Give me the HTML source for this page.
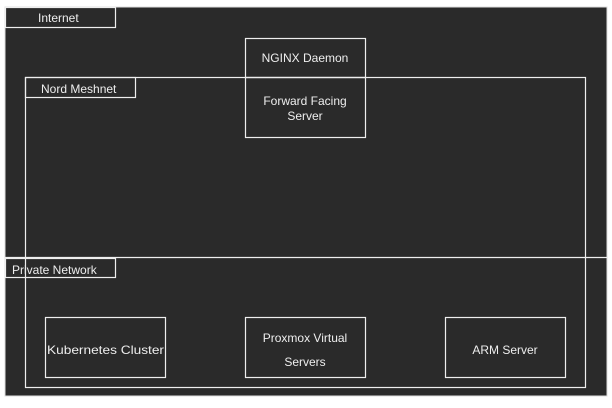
<!DOCTYPE html>
<html><head><style>
body{margin:0;width:612px;height:403px;background:#fff;overflow:hidden}
svg text{font-family:"Liberation Sans",sans-serif;fill:#eee;font-size:12px}
</style></head><body>
<svg width="612" height="403" viewBox="0 0 612 403">
<rect x="5" y="7" width="602" height="389" fill="#2a2a2a" stroke="#ddd" stroke-width="1"/>
<g fill="none" stroke="#eee" stroke-width="1.2">
<rect x="5.5" y="7.5" width="110" height="20"/>
<rect x="25.5" y="77.5" width="560" height="310"/>
<rect x="25.5" y="77.5" width="110" height="20"/>
<line x1="5" y1="257.5" x2="607" y2="257.5"/>
<rect x="5.5" y="258.5" width="110" height="19"/>
<rect x="245.5" y="38.5" width="120" height="39"/>
<rect x="245.5" y="77.5" width="120" height="60"/>
<rect x="45.5" y="317.5" width="120" height="60"/>
<rect x="245.5" y="317.5" width="120" height="60"/>
<rect x="445.5" y="317.5" width="120" height="60"/>
</g>
<text x="38" y="22">Internet</text>
<text x="41" y="93">Nord Meshnet</text>
<text x="12" y="274">Private Network</text>
<text x="305" y="62" text-anchor="middle">NGINX Daemon</text>
<text x="305" y="105" text-anchor="middle">Forward Facing</text>
<text x="305" y="120" text-anchor="middle">Server</text>
<text x="47" y="354" textLength="117" lengthAdjust="spacingAndGlyphs">Kubernetes Cluster</text>
<text x="305" y="342" text-anchor="middle">Proxmox Virtual</text>
<text x="305" y="366" text-anchor="middle">Servers</text>
<text x="505" y="354" text-anchor="middle">ARM Server</text>
</svg>
</body></html>
